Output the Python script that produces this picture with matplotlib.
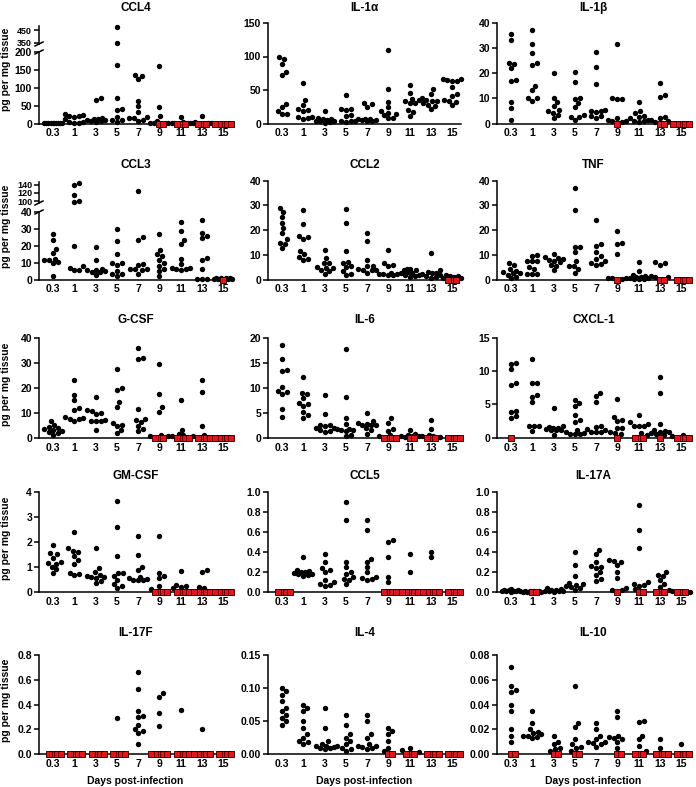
import numpy as np
import matplotlib
matplotlib.use('Agg')
import matplotlib.pyplot as plt
from matplotlib.lines import Line2D

plt.rcParams['font.family'] = ['Liberation Sans', 'DejaVu Sans']
plt.rcParams['font.weight'] = 'bold'

#### DATA ####
days = ['0.3', '1', '3', '5', '7', '9', '11', '13', '15']

# detected values per day (pg per mg tissue); *_nd = number of undetected (zero) samples per day
ccl4 = [[0.5, 0.3, 0.8, 0.2, 0.6, 0.4, 0.7, 0.3, 0.5, 0.2],
        [27, 24, 22, 20, 17, 12, 5, 3, 1, 1],
        [70, 67, 15, 13, 12, 10, 9, 8, 7, 5],
        [480, 352, 163, 71, 40, 37, 18, 10, 9, 3],
        [135, 133, 124, 64, 48, 33, 17, 15, 15, 10, 8],
        [160, 47, 20, 8, 2, 1, 0.5],
        [17, 3, 2, 1, 1, 0.5],
        [22, 3, 2, 1, 1],
        []]
ccl4_nd = [0, 0, 0, 0, 0, 2, 3, 3, 5]

il1a = [[99, 96, 89, 77, 72, 29, 24, 18, 14, 14],
        [61, 35, 28, 21, 20, 19, 10, 9, 8, 7],
        [18, 8, 7, 6, 5, 4, 3, 3, 2, 1],
        [42, 21, 21, 20, 12, 11, 4, 4, 3, 2],
        [31, 29, 25, 7, 6, 6, 5, 5, 4, 3],
        [110, 51, 32, 24, 18, 16, 14, 12, 8, 8],
        [57, 46, 37, 35, 33, 31, 30, 20, 17, 11],
        [51, 44, 38, 35, 34, 33, 30, 28, 26, 22],
        [67, 66, 65, 64, 64, 55, 44, 41, 35, 33, 32, 27]]
il1a_nd = [0, 0, 0, 0, 0, 0, 0, 0, 0]

il1b = [[35.5, 33.3, 24.2, 23.8, 22.1, 17.5, 16.8, 8.5, 6.3, 1.5],
        [37.1, 31.5, 28, 24.2, 23.3, 14.8, 13.2, 10, 10, 8.9],
        [20.2, 10, 8.5, 7, 5.3, 4.8, 4.3, 3.4, 2],
        [20.3, 16.6, 10, 9.8, 8, 6.5, 3.2, 2.5, 2.5, 1.3],
        [28.5, 22.5, 15.8, 5.5, 5, 5, 4.5, 3, 2.8, 2.3],
        [31.7, 10.3, 9.9, 9.8, 2, 1.5, 1, 0.8, 0.5],
        [8.7, 5, 4, 3, 2.5, 2, 1.5, 1, 0.8, 0.5],
        [16, 11.3, 10.5, 2.5, 2, 1.5, 1, 0.5],
        []]
il1b_nd = [0, 0, 0, 0, 0, 1, 0, 2, 5]

ccl3 = [[27, 23.6, 18, 15.6, 12.4, 11.8, 11.6, 10.2, 9.5, 2],
        [143, 139, 116, 100, 98, 20, 8, 6.8, 5.8, 5.5],
        [19.3, 11.8, 6.5, 5.8, 5.5, 5, 4.5, 4.5, 2.5],
        [30, 23, 15, 10, 9.5, 8.5, 5.3, 3.5, 3, 2],
        [125, 25, 23.5, 9, 8.5, 6.5, 6, 6, 5.5, 3.5],
        [27, 17.5, 15, 14, 11.5, 9.5, 8, 6.5, 5, 2],
        [34, 29, 23.5, 21, 12, 9, 7, 7, 6.5, 6, 5.5],
        [35.3, 27.6, 25.5, 24.6, 12.5, 11.5, 6.5, 0.5, 0.5, 0.5],
        [1, 0.8, 0.7, 0.6, 0.5, 0.5, 0.4, 0.3]]
ccl3_nd = [0, 0, 0, 0, 0, 0, 0, 0, 1]

ccl2 = [[29, 27.5, 25.5, 23, 20.7, 18.7, 16.3, 14.8, 14.5, 12.7],
        [28.3, 22.3, 17.5, 17.3, 16.3, 11.6, 10.2, 9, 8.3, 7.7],
        [11.8, 8.6, 6.8, 6.7, 5, 4.8, 4.8, 3.7, 3.3, 2.1],
        [28.4, 22.7, 11.6, 7.1, 6.7, 5.4, 5.2, 3.6, 2.3, 1.9],
        [18.7, 15.5, 7.7, 5.5, 5.5, 4.2, 4, 3.9, 3.7, 2.7],
        [12.1, 6.5, 6, 5.5, 2.5, 2.2, 2.2, 2.2, 2, 1.8],
        [4.3, 4.2, 4, 3.8, 3, 2.8, 2.5, 2, 1.8, 1.5, 1.2],
        [10.7, 4, 3, 2.8, 2.5, 2.2, 2, 1.5, 1, 0.5],
        [2, 1.6, 1.3, 1, 0.8, 0.6]]
ccl2_nd = [0, 0, 0, 0, 0, 0, 0, 0, 3]

tnf = [[6.6, 5.8, 4.3, 3.5, 3, 2.6, 2.5, 2, 1, 0.5],
       [10, 9.6, 7.4, 7.4, 7.3, 5, 4.2, 2.3, 2.3, 2.3],
       [10.2, 9.3, 8.7, 8.3, 8, 7.5, 7, 5.8, 5.6, 3.7],
       [37, 28, 13.3, 13.1, 11, 7.3, 5.6, 5.5, 4.3, 2.7],
       [24, 14.5, 13.7, 11.2, 9.7, 8.5, 7.3, 6.5, 6.3, 5.7],
       [19.6, 14.7, 14.5, 10.5, 0.8, 0.5, 0.5, 0.3],
       [7, 3.5, 2, 1.5, 1.2, 1, 0.8, 0.5, 0.3, 0.2, 0.2],
       [7, 6.5, 5.8, 1.5, 1.2, 1],
       []]
tnf_nd = [0, 0, 0, 0, 0, 1, 0, 2, 4]

gcsf = [[6.8, 5, 4.3, 4, 3.4, 3, 2.7, 2.2, 2, 1],
        [23, 17.2, 15, 12.1, 11, 8.4, 8, 7.7, 7.5, 6.5],
        [16.5, 11, 10.9, 10, 9.4, 7, 6.6, 6.5, 6.5, 3],
        [27.4, 20, 19.3, 14.4, 12.5, 6, 5, 4.7, 2.9, 1.7],
        [36, 31.8, 31.6, 11.5, 7.5, 7.2, 6.2, 4.5, 3.5, 2.5],
        [29.7, 17.7, 12.3, 10.5, 1, 0.8, 0.5],
        [15, 3, 1.5, 1, 0.5],
        [23.2, 18.2, 4.5, 1, 0.5],
        []]
gcsf_nd = [0, 0, 0, 0, 0, 3, 4, 4, 5]

il6 = [[18.5, 15.8, 13.5, 13.3, 10.1, 9.4, 9.2, 8.7, 5.8, 4.2],
       [12.2, 8.9, 8.7, 7.9, 6.9, 6.8, 6.4, 5.1, 4.6, 4],
       [8.5, 4.7, 2.6, 2.5, 2.3, 2, 1.9, 1.5, 1.3, 1.2],
       [17.8, 8.2, 3.9, 2.8, 1.8, 1.7, 1.5, 1.5, 1.3, 0.6, 0.3],
       [4.9, 3.4, 3, 2.8, 2.6, 2.5, 2.5, 2, 1.5, 0.7],
       [3.9, 3, 1.8, 1.4, 0.5, 0.3],
       [1.6, 0.7, 0.5, 0.4, 0.3, 0.3, 0.2],
       [3.6, 1.8, 0.5, 0.4, 0.3, 0.2],
       []]
il6_nd = [0, 0, 0, 0, 0, 4, 2, 3, 4]

cxcl1 = [[11.2, 11.1, 10.3, 8.3, 8, 4, 3.9, 3.2, 3],
         [11.8, 8.3, 8.3, 6.4, 6.1, 5.3, 1.8, 1.7, 1.7, 1],
         [4.5, 1.7, 1.6, 1.5, 1.4, 1.3, 1.2, 1.2, 1.1, 0.4],
         [5.6, 5.2, 4.8, 3.4, 2.7, 2.4, 1.2, 0.8, 0.7, 0.6, 0.6, 0.5],
         [6.8, 6.2, 5.4, 1.8, 1.6, 1.3, 1.2, 0.9, 0.9, 0.8],
         [5.8, 3.1, 2.7, 2.5, 1.5, 1.4, 0.8, 0.7, 0.5],
         [3.4, 2.3, 2.1, 1.8, 1.8, 1.7, 0.7, 0.4],
         [9.2, 6.7, 2.1, 1.1, 1, 0.9, 0.8, 0.7, 0.5, 0.4],
         [0.4, 0.2]]
cxcl1_nd = [1, 0, 0, 0, 0, 1, 3, 1, 4]

gmcsf = [[1.88, 1.55, 1.52, 1.38, 1.22, 1.15, 1.12, 1.02, 0.92, 0.75],
         [2.42, 1.75, 1.65, 1.6, 1.45, 1.28, 1.14, 0.76, 0.74, 0.67],
         [1.78, 0.95, 0.8, 0.7, 0.65, 0.62, 0.6, 0.58, 0.45, 0.38],
         [3.65, 2.62, 1.44, 0.77, 0.75, 0.65, 0.5, 0.33, 0.23, 0.15],
         [2.23, 1.5, 1.02, 0.9, 0.6, 0.55, 0.52, 0.5, 0.5, 0.48],
         [2.24, 0.78, 0.65, 0.58, 0.25, 0.12],
         [0.84, 0.3, 0.25, 0.2, 0.15],
         [0.88, 0.82, 0.22, 0.15],
         []]
gmcsf_nd = [0, 0, 0, 0, 0, 4, 4, 5, 5]

ccl5 = [[],
        [0.35, 0.22, 0.21, 0.2, 0.2, 0.19, 0.18, 0.18, 0.17, 0.16],
        [0.38, 0.3, 0.24, 0.22, 0.2, 0.12, 0.1, 0.08, 0.07, 0.06],
        [0.9, 0.72, 0.3, 0.25, 0.2, 0.18, 0.15, 0.13, 0.12, 0.08],
        [0.72, 0.62, 0.33, 0.3, 0.25, 0.2, 0.15, 0.14, 0.13, 0.12],
        [0.52, 0.5, 0.35, 0.15, 0.1],
        [0.38, 0.2],
        [0.4, 0.35],
        []]
ccl5_nd = [4, 0, 0, 0, 0, 4, 5, 5, 4]

il17a = [[0.03, 0.025, 0.02, 0.02, 0.015, 0.015, 0.01, 0.01, 0.01, 0.005],
         [0.015, 0.01, 0.01, 0.008, 0.005, 0.005, 0.003],
         [0.04, 0.03, 0.025, 0.02, 0.015, 0.01, 0.01, 0.008, 0.005],
         [0.4, 0.27, 0.16, 0.09, 0.08, 0.07, 0.06, 0.05, 0.04, 0.02],
         [0.42, 0.38, 0.3, 0.26, 0.25, 0.24, 0.2, 0.17, 0.13, 0.11],
         [0.32, 0.31, 0.3, 0.27, 0.2, 0.14, 0.04, 0.02, 0.02],
         [0.87, 0.62, 0.44, 0.1, 0.08, 0.07, 0.06, 0.03],
         [0.2, 0.17, 0.16, 0.12, 0.08, 0.05, 0.02],
         [0.01, 0.005]]
il17a_nd = [0, 2, 0, 0, 0, 1, 2, 3, 3]

il17f = [[], [], [], [0.29],
         [0.66, 0.53, 0.35, 0.31, 0.3, 0.24, 0.2, 0.19, 0.17, 0.08],
         [0.49, 0.46, 0.33, 0.23],
         [0.36], [0.2], []]
il17f_nd = [4, 4, 4, 4, 0, 5, 4, 5, 4]

il4 = [[0.1, 0.095, 0.09, 0.08, 0.07, 0.065, 0.06, 0.055, 0.05, 0.045],
       [0.075, 0.07, 0.065, 0.05, 0.04, 0.03, 0.025, 0.02, 0.018, 0.015],
       [0.07, 0.04, 0.02, 0.015, 0.013, 0.012, 0.011, 0.01, 0.01, 0.008],
       [0.06, 0.045, 0.03, 0.025, 0.02, 0.015, 0.012, 0.01, 0.008, 0.005],
       [0.06, 0.05, 0.03, 0.025, 0.015, 0.013, 0.012, 0.011, 0.01, 0.008],
       [0.04, 0.035, 0.03, 0.02, 0.01, 0.005],
       [0.01, 0.006, 0.003],
       [], []]
il4_nd = [0, 0, 0, 0, 0, 2, 3, 4, 4]

il10 = [[0.07, 0.055, 0.052, 0.05, 0.04, 0.035, 0.02, 0.015, 0.01],
        [0.035, 0.025, 0.02, 0.018, 0.017, 0.016, 0.015, 0.015, 0.014, 0.013],
        [0.015, 0.01, 0.008, 0.005, 0.004, 0.003],
        [0.055, 0.025, 0.022, 0.012, 0.008, 0.006, 0.005, 0.003],
        [0.025, 0.02, 0.015, 0.012, 0.01, 0.01, 0.009, 0.008, 0.006],
        [0.035, 0.03, 0.015, 0.014, 0.013, 0.012, 0.01, 0.005],
        [0.027, 0.026, 0.015, 0.012, 0.007, 0.003],
        [0.012, 0.005],
        [0.008]]
il10_nd = [2, 0, 2, 2, 0, 2, 3, 4, 4]

# (title, values, undetected, y tick labels, upper-segment tick labels for broken axes)
panels = [
    ('CCL4', ccl4, ccl4_nd, ['0', '50', '100', '150', '200'], ['350', '450']),
    ('IL-1α', il1a, il1a_nd, ['0', '50', '100', '150'], None),
    ('IL-1β', il1b, il1b_nd, ['0', '10', '20', '30', '40'], None),
    ('CCL3', ccl3, ccl3_nd, ['0', '10', '20', '30', '40'], ['100', '120', '140']),
    ('CCL2', ccl2, ccl2_nd, ['0', '10', '20', '30', '40'], None),
    ('TNF', tnf, tnf_nd, ['0', '10', '20', '30', '40'], None),
    ('G-CSF', gcsf, gcsf_nd, ['0', '10', '20', '30', '40'], None),
    ('IL-6', il6, il6_nd, ['0', '5', '10', '15', '20'], None),
    ('CXCL-1', cxcl1, cxcl1_nd, ['0', '5', '10', '15'], None),
    ('GM-CSF', gmcsf, gmcsf_nd, ['0', '1', '2', '3', '4'], None),
    ('CCL5', ccl5, ccl5_nd, ['0.0', '0.2', '0.4', '0.6', '0.8', '1.0'], None),
    ('IL-17A', il17a, il17a_nd, ['0.0', '0.2', '0.4', '0.6', '0.8', '1.0'], None),
    ('IL-17F', il17f, il17f_nd, ['0.0', '0.2', '0.4', '0.6', '0.8'], None),
    ('IL-4', il4, il4_nd, ['0.00', '0.05', '0.10', '0.15'], None),
    ('IL-10', il10, il10_nd, ['0.00', '0.02', '0.04', '0.06', '0.08'], None),
]

#### LAYOUT (pixels) ####
W, H = 696, 787
col_left = [39, 268, 497]
ax_w = 193
xlim = (-0.66, 8.42)
rows = [(23, 123.5), (180.7, 279.5), (338, 437.7), (492, 592), (655, 754.3)]
title_y = [8, 165, 320, 476, 633]
# broken axes: (upper top, upper bottom, upper ylim, lower top)
breaks = {'CCL4': (26, 44, (340, 485), 52), 'CCL3': (182, 203, (96, 146), 212)}

fig = plt.figure(figsize=(W / 100, H / 100), dpi=100)


def add_ax(left, top, bottom):
    return fig.add_axes([left / W, 1 - bottom / H, ax_w / W, (bottom - top) / H])


def style(ax, ticks, labels, show_x=True, size=7.5):
    for sp in ['top', 'right']:
        ax.spines[sp].set_visible(False)
    for sp in ['left', 'bottom']:
        ax.spines[sp].set_linewidth(1.1)
    ax.set_xlim(*xlim)
    ax.set_yticks(ticks, labels)
    ax.tick_params(axis='y', length=3.5, width=1.1, labelsize=size, pad=1.5)
    ax.tick_params(axis='x', length=0, labelsize=7.5, pad=3.5)
    if show_x:
        ax.set_xticks(range(len(days)), days)
    else:
        ax.set_xticks([])
        ax.spines['bottom'].set_visible(False)


def swarm(ypix, is_zero, xscale, d=5.0, dz=3.6, cap=9.0):
    # deterministic beeswarm offsets, computed in pixel space
    ypix = np.asarray(ypix, float)
    cands = [0.0]
    s = 0.5
    while s <= cap:
        cands += [s, -s]
        s += 0.5
    px, py, pz = [], [], []
    off = np.zeros(len(ypix))
    for i in np.argsort(ypix, kind='stable'):
        y = ypix[i]
        best, bestd = 0.0, -1.0
        for c in cands:
            if px:
                dist = np.hypot(np.array(px) - c, np.array(py) - y)
                need = np.where(np.array(pz) & is_zero[i], dz, d)
                slack = np.min(dist - need)
            else:
                slack = np.inf
            if slack >= 0:
                best = c
                break
            if slack > bestd or bestd == -1.0:
                best, bestd = c, slack
        off[i] = best
        px.append(best)
        py.append(y)
        pz.append(bool(is_zero[i]))
    return off / xscale


def break_mark(xp, yp):
    fig.add_artist(Line2D([(xp - 4) / W, (xp + 4) / W], [1 - (yp + 2) / H, 1 - (yp - 2) / H],
                          color='black', lw=1.1, transform=fig.transFigure))


xscale = ax_w / (xlim[1] - xlim[0])

for k, (name, vals, nd, ylab, uplab) in enumerate(panels):
    r, c = divmod(k, 3)
    left = col_left[c]
    top, bottom = rows[r]
    lmax = float(ylab[-1])
    if name in breaks:
        utop, ubot, ulim, ltop = breaks[name]
        ax = add_ax(left, ltop, bottom)
        axu = add_ax(left, utop, ubot)
        axu.set_ylim(*ulim)
        style(axu, [float(t) for t in uplab], uplab, show_x=False, size=6.5)
        lscale = (bottom - ltop) / lmax
        uscale = (ubot - utop) / (ulim[1] - ulim[0])
        break_mark(left, ubot)
        break_mark(left, ltop)
    else:
        ax = add_ax(left, top, bottom)
        axu = None
        lscale = (bottom - top) / lmax
    ax.set_ylim(0, lmax)
    style(ax, [float(t) for t in ylab], ylab)

    for i in range(len(days)):
        v = np.array(list(vals[i]) + [0.0] * nd[i], float)
        if len(v) == 0:
            continue
        zero = np.array([False] * len(vals[i]) + [True] * nd[i])
        upper = v > lmax
        ypix = v * lscale
        if axu is not None:
            ypix = np.where(upper, (bottom - ubot) + (v - ulim[0]) * uscale, ypix)
        x = i + swarm(ypix, zero, xscale)
        m = ~zero & ~upper
        ax.scatter(x[m], v[m], s=15, color='black', linewidths=0, clip_on=False, zorder=3)
        if axu is not None and upper.any():
            axu.scatter(x[upper], v[upper], s=15, color='black', linewidths=0, clip_on=False, zorder=3)
        if zero.any():
            ax.scatter(x[zero], v[zero], s=14, marker='s', facecolor='#ee1111', edgecolor='black',
                       linewidths=0.6, clip_on=False, zorder=4)

    fig.text((left + ax_w / 2) / W, 1 - title_y[r] / H, name, ha='center', va='center',
             fontsize=8.5, fontweight='bold')
    if c == 0:
        fig.text(6.5 / W, 1 - ((top + bottom) / 2 - 4) / H, 'pg per mg tissue', rotation=90,
                 ha='center', va='center', fontsize=7.5, fontweight='bold')
    if r == 4:
        fig.text((left + ax_w / 2) / W, 1 - 781 / H, 'Days post-infection', ha='center',
                 va='center', fontsize=7.5, fontweight='bold')

plt.savefig('out.png', dpi=100)
